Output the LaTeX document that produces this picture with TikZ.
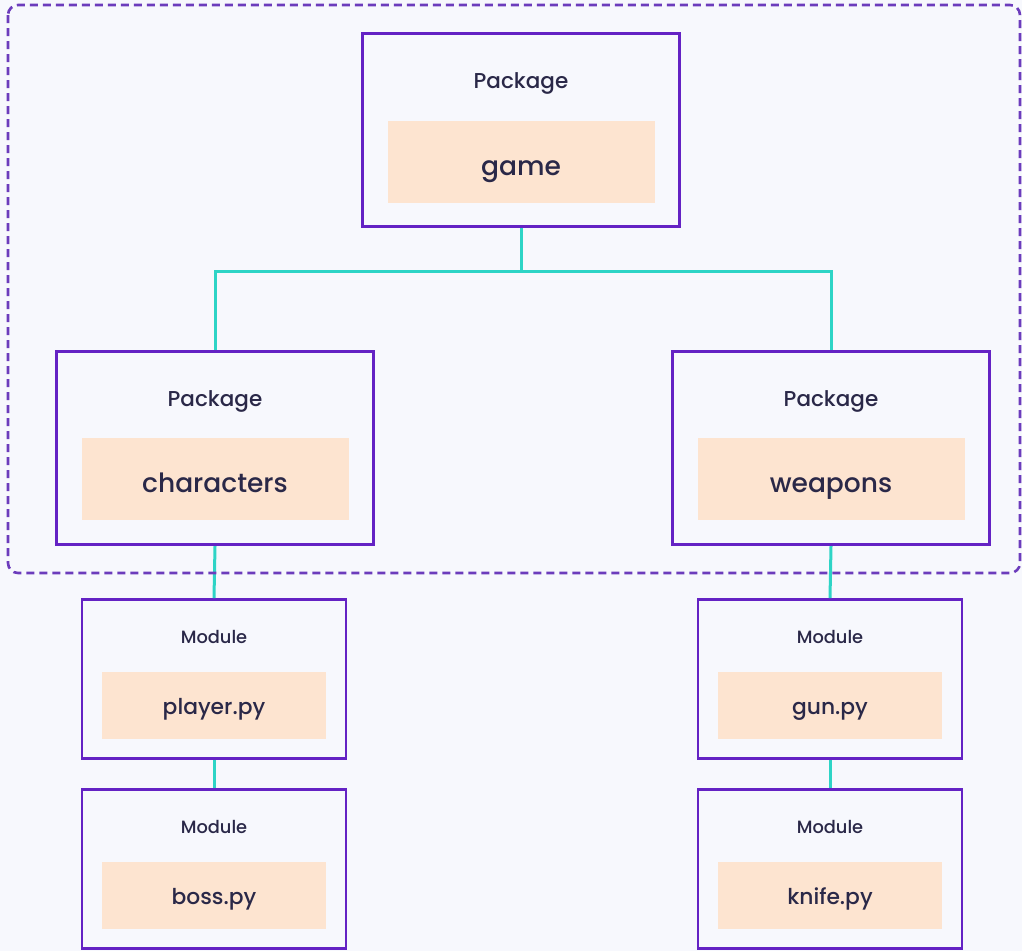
\documentclass[tikz,border=0pt]{standalone}
\usepackage{fontspec}
\setmainfont{Poppins Medium}
\usepackage{tikz}
\usetikzlibrary{positioning}

\definecolor{pagebg}{RGB}{247,248,253}
\definecolor{boxline}{RGB}{100,34,196}
\definecolor{dashline}{RGB}{108,60,188}
\definecolor{wire}{RGB}{46,212,198}
\definecolor{peach}{RGB}{253,228,208}
\definecolor{ink}{RGB}{42,40,72}

\tikzset{
  pkgbox/.style={draw=boxline, line width=3.2pt, minimum width=317pt, minimum height=193pt, inner sep=0pt},
  modbox/.style={draw=boxline, line width=2.8pt, minimum width=264pt, minimum height=159pt, inner sep=0pt},
  pkgname/.style={fill=peach, minimum width=267pt, minimum height=82pt, inner sep=0pt, text height=26pt, text depth=0pt, text=ink, font=\fontsize{26.5}{29}\selectfont},
  modname/.style={fill=peach, minimum width=224pt, minimum height=67pt, inner sep=0pt, text height=18pt, text depth=0pt, text=ink, font=\fontsize{21.8}{24}\selectfont},
  pkgkind/.style={text=ink, inner sep=0pt, anchor=base, font=\fontsize{21.5}{24}\selectfont},
  modkind/.style={text=ink, inner sep=0pt, anchor=base, font=\fontsize{17.8}{20}\selectfont},
  wire/.style={draw=wire, line width=3pt},
}

\begin{document}
\begin{tikzpicture}[x=1pt, y=-1pt]
    \fill[pagebg] (0,0) rectangle (1022,951);
    \useasboundingbox (0,0) rectangle (1022,951);

    % packages
    \node[pkgbox] (game) at (521,130) {};
    \node[pkgkind] (gamekind) at (521,88) {Package};
    \node[pkgname] (gamename) at (521,162) {game};

    \node[pkgbox] (characters) at (215,448) {};
    \node[pkgkind] (characterskind) at (215,406) {Package};
    \node[pkgname] (charactersname) at (215,479) {characters};

    \node[pkgbox] (weapons) at (831,448) {};
    \node[pkgkind] (weaponskind) at (831,406) {Package};
    \node[pkgname] (weaponsname) at (831,479) {weapons};

    % modules
    \foreach \name/\x/\y/\file in {player/214/679/player.py, boss/214/869/boss.py, gun/830/679/gun.py, knife/830/869/knife.py} {
        \node[modbox] (\name) at (\x,\y) {};
        \node[modkind] (\name kind) at (\x,\y-36) {Module};
        \node[modname] (\name name) at (\x,\y+26) {\file};
    }

    % wires
    \coordinate (bus) at (521,271);
    \draw[wire] (game.south) -- (bus);
    \draw[wire] (bus) -| (characters.north);
    \draw[wire] (bus) -| (weapons.north);
    \draw[wire] (characters.south) -- (player.north);
    \draw[wire] (weapons.south) -- (gun.north);
    \draw[wire] (player.south) -- (boss.north);
    \draw[wire] (gun.south) -- (knife.north);

    % the dashed frame round the packages
    \draw[dashline, line width=2.6pt, dash pattern=on 8pt off 5pt, rounded corners=10pt]
        (8,5) rectangle (1020,573);
\end{tikzpicture}
\end{document}
